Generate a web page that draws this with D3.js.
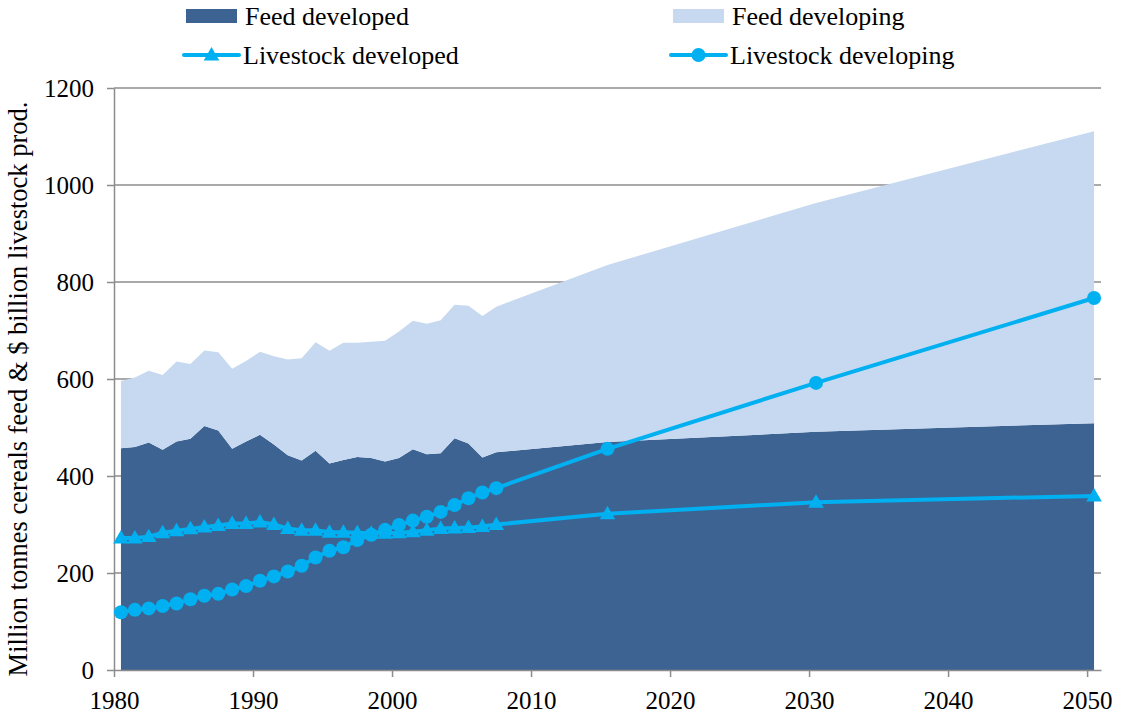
<!DOCTYPE html>
<html>
<head>
<meta charset="utf-8">
<script src="https://cdn.jsdelivr.net/npm/d3@7"></script>
<style>
  body { margin: 0; background: #fff; }
  text { font-family: "Liberation Serif", "Times New Roman", serif; fill: #000; }
</style>
</head>
<body>
<div id="chart"></div>
<script>
// Years (data points sit at mid-year)
var years = [1980, 1981, 1982, 1983, 1984, 1985, 1986, 1987, 1988, 1989,
  1990, 1991, 1992, 1993, 1994, 1995, 1996, 1997, 1998, 1999,
  2000, 2001, 2002, 2003, 2004, 2005, 2006, 2007, 2015, 2030, 2050];

// Cereal feed, million tonnes
var feedDeveloped = [457, 460, 469, 454, 471, 477, 503, 494, 456, 471,
  485, 465, 443, 432, 452, 426, 433, 439, 437, 430,
  437, 455, 445, 447, 478, 467, 438, 449, 470, 491, 509];
var feedDeveloping = [139, 143, 148, 154, 165, 154, 156, 161, 165, 166,
  171, 182, 197, 211, 224, 232, 242, 236, 240, 249,
  261, 265, 269, 274, 275, 284, 292, 300, 365, 472, 602];

// Livestock production, $ billion
var livestockDeveloped = [272, 272, 275, 283, 287, 291, 295, 298, 302, 302,
  305, 300, 292, 288, 288, 284, 284, 283, 282, 282,
  283, 285, 288, 292, 293, 294, 296, 300, 322, 346, 359];
var livestockDeveloping = [119, 124, 127, 132, 137, 146, 153, 157, 166, 173,
  184, 193, 203, 215, 232, 246, 253, 268, 279, 289,
  299, 308, 316, 326, 340, 354, 366, 375, 456, 592, 767];

var xTicks = [1980, 1990, 2000, 2010, 2020, 2030, 2040, 2050];
var yTicks = [0, 200, 400, 600, 800, 1000, 1200];

var svgWidth = 1122;
var svgHeight = 715;

var margin = { top: 88, right: 21, bottom: 45, left: 114 };
var width = svgWidth - margin.left - margin.right;
var height = svgHeight - margin.top - margin.bottom;

var darkBlue = "#3d6393";
var lightBlue = "#c6d9f0";
var lineBlue = "#00b0f0";
var axisGrey = "#8c8c8c";

var svg = d3.select("#chart")
  .append("svg")
  .attr("width", svgWidth)
  .attr("height", svgHeight);

var chartGroup = svg.append("g")
  .attr("transform", `translate(${margin.left}, ${margin.top})`);

// Build rows for the stack
var rows = years.map(function(y, i) {
  return {
    year: y,
    developed: feedDeveloped[i],
    developing: feedDeveloping[i],
    lsDeveloped: livestockDeveloped[i],
    lsDeveloping: livestockDeveloping[i]
  };
});

var xScale = d3.scaleLinear()
  .domain([1980, 2051])
  .range([0, width]);

var yScale = d3.scaleLinear()
  .domain([0, 1200])
  .range([height, 0]);

var xPos = d => xScale(d.year + 0.5);

// Horizontal gridlines
chartGroup.append("g")
  .selectAll("line")
  .data(yTicks.slice(1))
  .enter()
  .append("line")
  .attr("x1", 0)
  .attr("x2", width)
  .attr("y1", d => yScale(d))
  .attr("y2", d => yScale(d))
  .attr("stroke", axisGrey)
  .attr("stroke-width", 1.3);

// Stacked feed areas
var stack = d3.stack().keys(["developed", "developing"]);
var series = stack(rows);

var area = d3.area()
  .x(d => xPos(d.data))
  .y0(d => yScale(d[0]))
  .y1(d => yScale(d[1]));

chartGroup.selectAll(".feed")
  .data(series)
  .enter()
  .append("path")
  .attr("class", "feed")
  .attr("d", area)
  .attr("fill", (d, i) => i === 0 ? darkBlue : lightBlue);

// Axes
var bottomAxis = d3.axisBottom(xScale)
  .tickValues(xTicks)
  .tickFormat(d3.format("d"))
  .tickSizeInner(7)
  .tickSizeOuter(0)
  .tickPadding(14);

var leftAxis = d3.axisLeft(yScale)
  .tickValues(yTicks)
  .tickFormat(d3.format("d"))
  .tickSizeInner(7)
  .tickSizeOuter(0)
  .tickPadding(13);

var xAxis = chartGroup.append("g")
  .attr("transform", `translate(0, ${height})`)
  .call(bottomAxis);

var yAxis = chartGroup.append("g")
  .call(leftAxis);

[xAxis, yAxis].forEach(function(ax) {
  ax.attr("font-family", null);
  ax.select(".domain").attr("stroke", axisGrey).attr("stroke-width", 1.5);
  ax.selectAll(".tick line").attr("stroke", axisGrey).attr("stroke-width", 1.5);
  ax.selectAll("text").attr("font-size", "25px").attr("fill", "#000");
});

// Livestock lines
var lineDeveloped = d3.line()
  .x(d => xPos(d))
  .y(d => yScale(d.lsDeveloped));

var lineDeveloping = d3.line()
  .x(d => xPos(d))
  .y(d => yScale(d.lsDeveloping));

chartGroup.append("path")
  .datum(rows)
  .attr("d", lineDeveloped)
  .attr("fill", "none")
  .attr("stroke", lineBlue)
  .attr("stroke-width", 4);

chartGroup.append("path")
  .datum(rows)
  .attr("d", lineDeveloping)
  .attr("fill", "none")
  .attr("stroke", lineBlue)
  .attr("stroke-width", 4);

var triangle = d3.symbol().type(d3.symbolTriangle).size(105);

chartGroup.selectAll(".tri")
  .data(rows)
  .enter()
  .append("path")
  .attr("class", "tri")
  .attr("d", triangle)
  .attr("transform", d => `translate(${xPos(d)}, ${yScale(d.lsDeveloped) + 1})`)
  .attr("fill", lineBlue);

chartGroup.selectAll(".dot")
  .data(rows)
  .enter()
  .append("circle")
  .attr("class", "dot")
  .attr("cx", d => xPos(d))
  .attr("cy", d => yScale(d.lsDeveloping))
  .attr("r", 7)
  .attr("fill", lineBlue);

// Y-axis title
svg.append("text")
  .attr("transform", "translate(27, 389) rotate(-90)")
  .attr("text-anchor", "middle")
  .attr("font-size", "26.5px")
  .text("Million tonnes cereals feed & $ billion livestock prod.");

// Legend
var legend = svg.append("g");

var legendItems = [
  { label: "Feed developed", kind: "rect", color: darkBlue, x: 186, y: 16 },
  { label: "Feed developing", kind: "rect", color: lightBlue, x: 673, y: 16 },
  { label: "Livestock developed", kind: "tri", color: lineBlue, x: 184, y: 55 },
  { label: "Livestock developing", kind: "dot", color: lineBlue, x: 671, y: 55 }
];

legendItems.forEach(function(item) {
  var g = legend.append("g")
    .attr("transform", `translate(${item.x}, ${item.y})`);
  if (item.kind === "rect") {
    g.append("rect")
      .attr("x", 0)
      .attr("y", -7)
      .attr("width", 51)
      .attr("height", 14)
      .attr("fill", item.color);
  } else {
    g.append("line")
      .attr("x1", 0)
      .attr("x2", 55)
      .attr("stroke", item.color)
      .attr("stroke-width", 4)
      .attr("stroke-linecap", "round");
    if (item.kind === "tri") {
      g.append("path")
        .attr("d", triangle)
        .attr("transform", "translate(27.5, 1)")
        .attr("fill", item.color);
    } else {
      g.append("circle")
        .attr("cx", 27.5)
        .attr("r", 7)
        .attr("fill", item.color);
    }
  }
  g.append("text")
    .attr("x", 59)
    .attr("y", 9)
    .attr("font-size", "26px")
    .text(item.label);
});
</script>
</body>
</html>
